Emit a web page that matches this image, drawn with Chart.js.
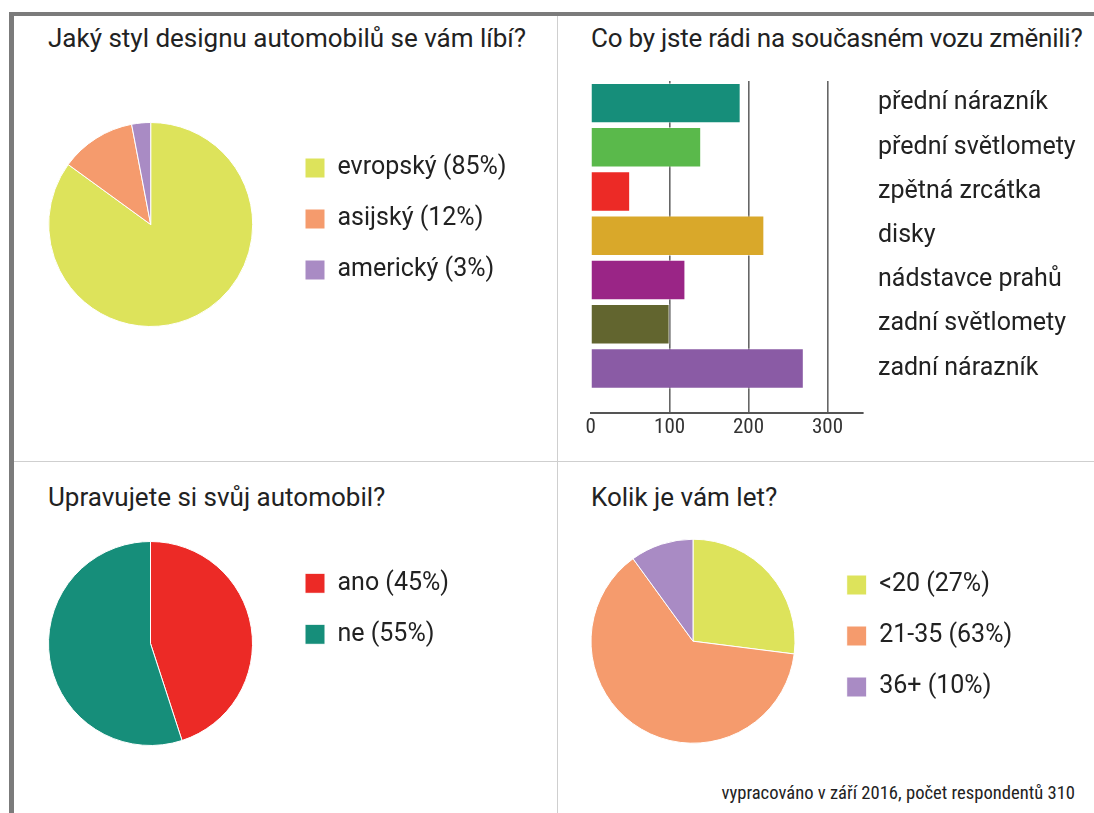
<!DOCTYPE html>
<html>
<head>
<meta charset="utf-8">
<script src="https://cdn.jsdelivr.net/npm/chart.js@4.4.0/dist/chart.umd.min.js"></script>
<style>
  body { margin: 0; width: 1094px; height: 813px; background: #fff; position: relative; overflow: hidden;
         font-family: Roboto, sans-serif; color: #222; }
  .frame-top { position: absolute; left: 9px; top: 12px; right: 0; height: 4px; background: #7b7b7b; }
  .frame-left { position: absolute; left: 9px; top: 12px; width: 5px; bottom: 0; background: #7b7b7b; }
  .line-v { position: absolute; left: 557px; top: 16px; width: 1px; bottom: 0; background: #cfcfcf; }
  .line-h { position: absolute; left: 14px; top: 461px; right: 0; height: 1px; background: #cfcfcf; }
  .title { position: absolute; font-size: 26px; line-height: 26px; white-space: nowrap; }
  .note { position: absolute; right: 19px; top: 784px; font-family: 'Roboto Condensed', Roboto, sans-serif;
          font-size: 18.6px; line-height: 19px; white-space: nowrap; }
  canvas { position: absolute; }
</style>
</head>
<body>
<div class="frame-top"></div>
<div class="frame-left"></div>
<div class="line-v"></div>
<div class="line-h"></div>

<div class="title" style="left:48px; top:25px;">Jaký styl designu automobilů se vám líbí?</div>
<div class="title" style="left:591px; top:25px; letter-spacing:-0.24px;">Co by jste rádi na současném vozu změnili?</div>
<div class="title" style="left:48px; top:484px;">Upravujete si svůj automobil?</div>
<div class="title" style="left:591px; top:484px;">Kolik je vám let?</div>
<div class="note">vypracováno v září 2016, počet respondentů 310</div>

<canvas id="design" width="517" height="214" style="left:20px; top:118px;"></canvas>
<canvas id="changes" width="524" height="385" style="left:570px; top:60px;"></canvas>
<canvas id="tuning" width="517" height="212" style="left:20px; top:538px;"></canvas>
<canvas id="age" width="528" height="215" style="left:562px; top:535px;"></canvas>

<script>
const designLabels = ['evropský (85%)', 'asijský (12%)', 'americký (3%)'];
const designShares = [85, 12, 3];

const changeParts = ['přední nárazník', 'přední světlomety', 'zpětná zrcátka', 'disky',
                     'nádstavce prahů', 'zadní světlomety', 'zadní nárazník'];
const changeCounts = [190, 140, 50, 220, 120, 100, 270];
const changeTicks = [0, 100, 200, 300];

const tuningLabels = ['ano (45%)', 'ne (55%)'];
const tuningShares = [45, 55];

const ageLabels = ['<20 (27%)', '21-35 (63%)', '36+ (10%)'];
const ageShares = [27, 63, 10];

const pieColors = ['#dde35b', '#f59b6d', '#a98bc4'];
const tuningColors = ['#ec2a26', '#168e7a'];
const barColors = ['#168e7a', '#5ab94b', '#ec2a26', '#d9a82a', '#9a2586', '#62652f', '#8a5ba5'];

Chart.defaults.font.family = 'Roboto, sans-serif';
Chart.defaults.color = '#222';

const legendGap = 26;

// pie with legend on the right; boxLeft = wanted x of the legend boxes inside the canvas
function pieChart(id, labels, values, colors, pad, boxLeft) {
    const chart = new Chart(document.getElementById(id), {
        type: 'pie',
        data: {
            labels: labels,
            datasets: [{
                data: values,
                backgroundColor: colors,
                borderColor: '#fff',
                borderWidth: 1,
                clip: false
            }]
        },
        options: {
            responsive: false,
            animation: false,
            radius: 102,
            layout: { padding: pad },
            plugins: {
                tooltip: { enabled: false },
                legend: {
                    position: 'right',
                    align: 'start',
                    labels: { boxWidth: 20, boxHeight: 20, padding: legendGap, color: '#222', font: { size: 25 } }
                }
            }
        }
    });
    // the legend width follows the text, so move the right padding until the boxes sit where wanted
    chart.options.layout.padding.right += chart.chartArea.right - (boxLeft - legendGap);
    chart.update();
}

pieChart('design', designLabels, designShares, pieColors, { left: 2.4, top: 11.5, right: 0, bottom: 12.5 }, 285);
pieChart('tuning', tuningLabels, tuningShares, tuningColors, { left: 2, top: 6.8, right: 0, bottom: 7.8 }, 285);
pieChart('age', ageLabels, ageShares, pieColors, { left: 3.3, top: 11.5, right: 0, bottom: 14.1 }, 284.7);

new Chart(document.getElementById('changes'), {
    type: 'bar',
    data: {
        datasets: [{
            data: changeCounts.map((v, i) => ({ x: v, y: i })),
            backgroundColor: barColors,
            borderColor: 'rgba(255,255,255,0.5)',
            borderWidth: 1,
            categoryPercentage: 1,
            barPercentage: 0.915
        }]
    },
    options: {
        indexAxis: 'y',
        responsive: false,
        animation: false,
        layout: { padding: { left: 20.7, top: 21, right: 0, bottom: 0 } },
        plugins: { legend: { display: false }, tooltip: { enabled: false } },
        scales: {
            x: {
                type: 'linear',
                min: 0,
                max: 345,
                afterBuildTicks: (s) => { s.ticks = changeTicks.map(v => ({ value: v })); },
                afterFit: (s) => { s.height = 32.3; },
                grid: {
                    drawTicks: false,
                    lineWidth: 1.6,
                    color: (c) => (c.tick && c.tick.value === 0) ? 'rgba(0,0,0,0)' : '#666'
                },
                border: { display: true, color: '#555', width: 2 },
                ticks: { padding: 2, color: '#333', font: { family: "'Roboto Condensed', Roboto, sans-serif", size: 21 } }
            },
            y: {
                type: 'linear',
                position: 'right',
                reverse: true,
                offset: false,
                min: -0.5,
                max: 7,
                afterBuildTicks: (s) => { s.ticks = changeParts.map((p, i) => ({ value: i })); },
                afterFit: (s) => { s.width = 231; },
                grid: { display: false, offset: false, drawTicks: true, tickLength: 15 },
                border: { display: false },
                ticks: { padding: 0, color: '#222', font: { size: 25 }, callback: (v) => changeParts[v] }
            }
        }
    }
});
</script>
</body>
</html>
